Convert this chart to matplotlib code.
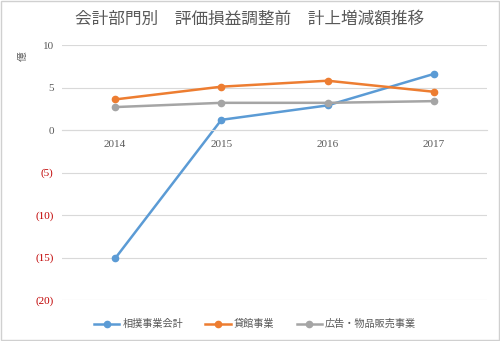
import matplotlib
matplotlib.use("Agg")
import matplotlib.pyplot as plt
from matplotlib.patches import Rectangle

plt.rcParams['font.family'] = ['Noto Sans CJK JP', 'DejaVu Sans']

years = ['2014', '2015', '2016', '2017']
sumo = [-15.1, 1.2, 2.9, 6.6]
kashikan = [3.6, 5.1, 5.8, 4.5]
koukoku = [2.7, 3.2, 3.2, 3.4]
series_names = ['相撲事業会計', '貸館事業', '広告・物品販売事業']
colors = ['#5B9BD5', '#ED7D31', '#A5A5A5']
yticks = [10, 5, 0, -5, -10, -15, -20]

fig = plt.figure(figsize=(5, 3.41), dpi=100)
ax = fig.add_axes([0.124, 0.12, 0.85, 0.748])
x = list(range(len(years)))
for vals, name, c in zip([sumo, kashikan, koukoku], series_names, colors):
    ax.plot(x, vals, color=c, lw=1.8, marker='o', ms=4.5, label=name)

ax.set_xlim(-0.5, 3.5)
ax.set_ylim(-20, 10)
ax.set_yticks(yticks)
labels = [str(v) if v >= 0 else f'({-v})' for v in yticks]
ax.set_yticklabels(labels, family='Liberation Serif', fontsize=8)
for t, v in zip(ax.get_yticklabels(), yticks):
    t.set_color('#C00000' if v < 0 else '#595959')
ax.yaxis.grid(True, color='#D9D9D9', lw=0.8)
ax.set_axisbelow(True)
for s in ['top', 'right', 'left']:
    ax.spines[s].set_visible(False)
ax.spines['bottom'].set_position(('data', 0))
ax.spines['bottom'].set_color('#D9D9D9')
ax.set_xticks(x)
ax.set_xticklabels(years, family='Liberation Serif', fontsize=8, color='#595959')
ax.tick_params(axis='both', length=0, pad=6)
ax.tick_params(axis='x', pad=7)

fig.text(0.045, 0.835, '億', rotation=90, fontsize=7, color='#595959', ha='center', va='center')
fig.text(0.5, 0.945, '会計部門別　評価損益調整前　計上増減額推移', ha='center', va='center',
         fontsize=12, color='#595959')
leg = fig.legend(loc='center', bbox_to_anchor=(0.51, 0.05), ncol=3, frameon=False,
                 fontsize=7.3, handlelength=2.5, columnspacing=2.2, handletextpad=0.3)
for t in leg.get_texts():
    t.set_color('#595959')
fig.patches.append(Rectangle((0.002, 0.003), 0.995, 0.993, transform=fig.transFigure,
                             fill=False, edgecolor='#D0D0D0', lw=1))
fig.savefig('out.png', dpi=100)
